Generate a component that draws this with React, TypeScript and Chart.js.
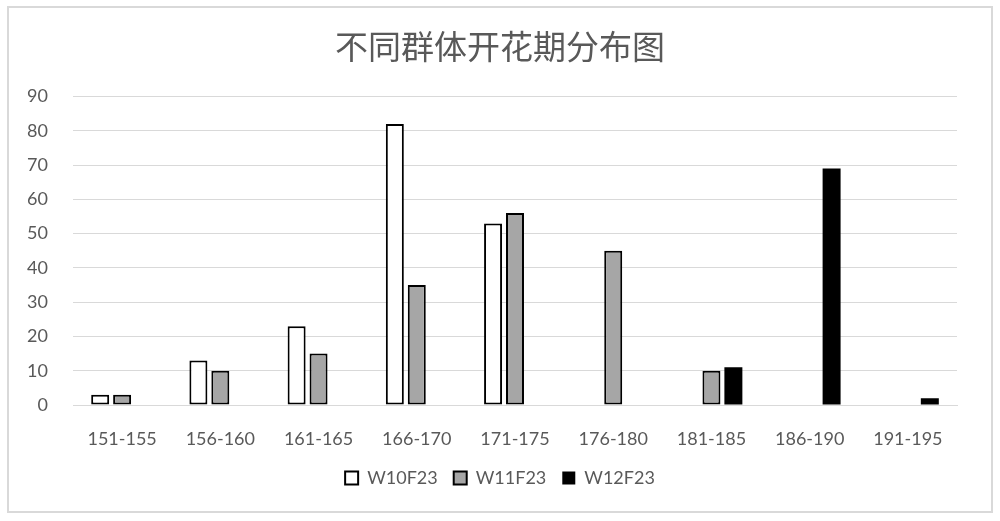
import React, { useEffect, useRef } from 'react';
import { Chart, registerables } from 'chart.js';

Chart.register(...registerables);

const categories = ['151-155', '156-160', '161-165', '166-170', '171-175', '176-180', '181-185', '186-190', '191-195'];
const w10f23 = [3, 13, 23, 82, 53, 0, 0, 0, 0];
const w11f23 = [3, 10, 15, 35, 56, 45, 10, 0, 0];
const w12f23 = [0, 0, 0, 0, 0, 0, 11, 69, 2];
const seriesNames = ['W10F23', 'W11F23', 'W12F23'];

const textColor = '#595959';
const gridColor = '#d9d9d9';

const App: React.FC = () => {
    const chartRef = useRef<HTMLCanvasElement>(null);

    useEffect(() => {
        if (!chartRef.current) return;
        const ctx = chartRef.current.getContext('2d');
        if (!ctx) return;

        const chart = new Chart(ctx, {
            type: 'bar',
            data: {
                labels: categories,
                datasets: [
                    {
                        label: seriesNames[0],
                        data: w10f23,
                        backgroundColor: '#ffffff',
                        borderColor: '#000000',
                        borderWidth: 2,
                        borderSkipped: false,
                    },
                    {
                        label: seriesNames[1],
                        data: w11f23,
                        backgroundColor: '#a6a6a6',
                        borderColor: '#000000',
                        borderWidth: 2,
                        borderSkipped: false,
                    },
                    {
                        label: seriesNames[2],
                        data: w12f23,
                        backgroundColor: '#000000',
                        borderColor: '#000000',
                        borderWidth: 0,
                    },
                ],
            },
            options: {
                responsive: true,
                maintainAspectRatio: false,
                animation: false,
                categoryPercentage: 0.67,
                barPercentage: 0.82,
                layout: {
                    // symmetric so title and legend sit in the middle of the page
                    padding: { left: 43, right: 43, top: 0, bottom: 24 },
                },
                plugins: {
                    title: {
                        display: true,
                        text: '不同群体开花期分布图',
                        color: textColor,
                        font: { family: '"Noto Sans CJK SC", sans-serif', size: 33, weight: 'normal' },
                        padding: { top: 27, bottom: 30 },
                    },
                    legend: {
                        position: 'bottom',
                        labels: {
                            color: textColor,
                            font: { family: 'Lato, sans-serif', size: 18 },
                            boxWidth: 13,
                            boxHeight: 13,
                            padding: 16,
                        },
                    },
                    tooltip: { enabled: false },
                },
                scales: {
                    x: {
                        grid: { display: false, drawTicks: false },
                        border: { display: true, color: gridColor, width: 1 },
                        ticks: {
                            color: textColor,
                            font: { family: 'Lato, sans-serif', size: 18 },
                            padding: 23,
                            maxRotation: 0,
                        },
                        afterFit: (scale: any) => {
                            scale.height = 48;
                        },
                    },
                    y: {
                        min: 0,
                        max: 90,
                        grid: { color: gridColor, drawTicks: false },
                        border: { display: false },
                        ticks: {
                            stepSize: 10,
                            color: textColor,
                            font: { family: 'Lato, sans-serif', size: 18 },
                            // mirrored labels pushed back out to the left of the plot (avoids label clipping)
                            mirror: true,
                            crossAlign: 'far',
                            padding: -46,
                        },
                        afterFit: (scale: any) => {
                            scale.width = 30;
                        },
                    },
                },
            },
        });

        return () => {
            chart.destroy();
        };
    }, []);

    return (
        <div style={{ position: 'fixed', left: 0, top: 0, width: 1000, height: 521, background: '#ffffff' }}>
            <canvas ref={chartRef}></canvas>
            <div
                style={{
                    position: 'absolute',
                    left: 7,
                    top: 6,
                    width: 986,
                    height: 507,
                    border: '2px solid #d9d9d9',
                    boxSizing: 'border-box',
                    pointerEvents: 'none',
                }}
            />
        </div>
    );
};

export default App;
